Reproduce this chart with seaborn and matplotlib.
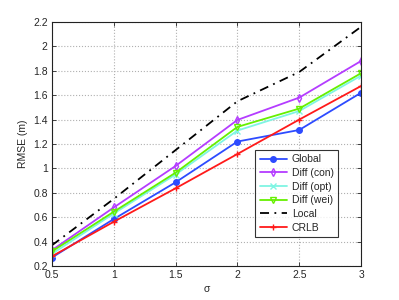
import matplotlib
matplotlib.use("Agg")
import matplotlib.pyplot as plt
import seaborn as sns
import pandas as pd

# data
sigma = [0.5, 1.0, 1.5, 2.0, 2.5, 3.0]
rmse_global = [0.27, 0.585, 0.886, 1.22, 1.315, 1.62]
rmse_con = [0.33, 0.68, 1.02, 1.397, 1.58, 1.88]
rmse_opt = [0.30, 0.63, 0.95, 1.31, 1.47, 1.76]
rmse_wei = [0.32, 0.645, 0.965, 1.34, 1.49, 1.78]
rmse_local = [0.37, 0.75, 1.15, 1.55, 1.79, 2.16]
rmse_crlb = [0.28, 0.563, 0.837, 1.118, 1.40, 1.675]

labels = ["Global", "Diff (con)", "Diff (opt)", "Diff (wei)", "Local", "CRLB"]
series = [rmse_global, rmse_con, rmse_opt, rmse_wei, rmse_local, rmse_crlb]

df = pd.concat([pd.DataFrame({"sigma": sigma, "rmse": v, "method": lab})
                for lab, v in zip(labels, series)], ignore_index=True)

styles = {
    "Global": dict(color="#2d4bff", marker="o", mfc="#2d4bff", ls="-"),
    "Diff (con)": dict(color="#b43cff", marker="d", mfc="none", ls="-"),
    "Diff (opt)": dict(color="#7ff5e3", marker="x", mfc="none", ls="-"),
    "Diff (wei)": dict(color="#66f000", marker="v", mfc="none", ls="-"),
    "Local": dict(color="black", marker=None, mfc="none", ls=(0, (5, 3, 1, 3))),
    "CRLB": dict(color="#ff1a1a", marker="+", mfc="none", ls="-"),
}

sns.set_style("ticks")
plt.rcParams["font.family"] = ["Liberation Sans", "DejaVu Sans"]
plt.rcParams["font.size"] = 7.5

fig = plt.figure(figsize=(3.99, 3.0), dpi=100)
ax = fig.add_axes([0.130, 0.113, 0.775, 0.814])

for lab in labels:
    st = styles[lab]
    sns.lineplot(data=df[df["method"] == lab], x="sigma", y="rmse", ax=ax,
                 color=st["color"], marker=st["marker"], linestyle=st["ls"],
                 markerfacecolor=st["mfc"], markeredgecolor=st["color"],
                 markersize=4, markeredgewidth=1.0, lw=1.3, label=lab)

ax.set_xlim(0.5, 3)
ax.set_ylim(0.2, 2.2)
ax.set_xticks([0.5, 1, 1.5, 2, 2.5, 3])
ax.set_xticklabels(["0.5", "1", "1.5", "2", "2.5", "3"])
ax.set_yticks([0.2, 0.4, 0.6, 0.8, 1.0, 1.2, 1.4, 1.6, 1.8, 2.0, 2.2])
ax.set_yticklabels(["0.2", "0.4", "0.6", "0.8", "1", "1.2", "1.4", "1.6", "1.8", "2", "2.2"])
ax.grid(True, ls=":", color="#b0b0b0", lw=0.8)
ax.tick_params(direction="in", length=3, width=0.6, top=True, right=True, labelsize=7.5, pad=3)
for s in ax.spines.values():
    s.set_linewidth(0.8)
    s.set_color("#222222")

ax.set_xlabel("σ", fontsize=7.5, labelpad=3)
ax.set_ylabel("RMSE (m)", fontsize=7.5, labelpad=4)

leg = ax.legend(loc="upper left", bbox_to_anchor=(0.658, 0.475), frameon=True,
                fancybox=False, edgecolor="black", fontsize=7.5, handlelength=2.6,
                borderpad=0.4, labelspacing=0.35, handletextpad=0.5, borderaxespad=0)
leg.get_frame().set_linewidth(0.8)

fig.savefig("out.png", dpi=100)
